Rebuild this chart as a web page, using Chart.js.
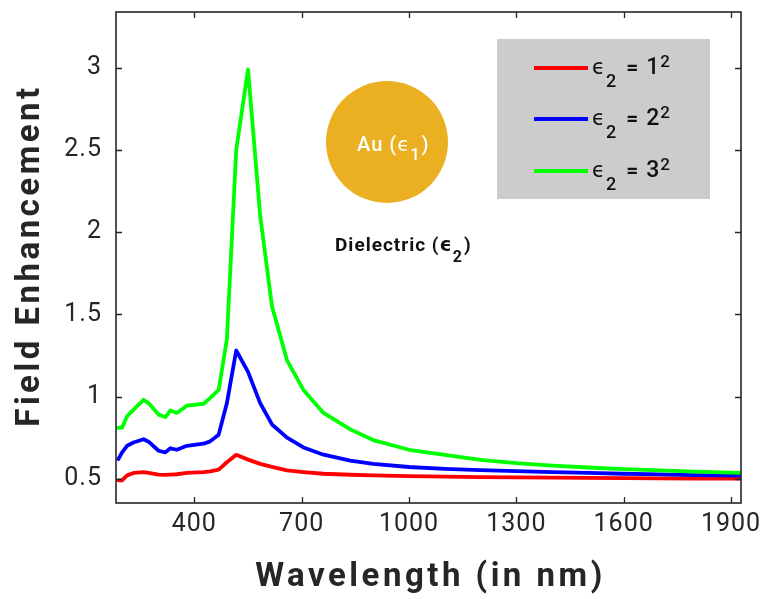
<!DOCTYPE html>
<html>
<head>
<meta charset="utf-8">
<script src="https://cdn.jsdelivr.net/npm/chart.js@4.4.1/dist/chart.umd.min.js"></script>
<style>
  html, body { margin: 0; padding: 0; background: #ffffff; }
  #wrap { width: 765px; height: 599px; position: relative; }
</style>
</head>
<body>
<div id="wrap"><canvas id="c" width="765" height="599"></canvas></div>
<script>
// ---- Data ----
const wavelengths = [188, 198, 212, 230, 258, 272, 300, 319, 333, 351, 379, 426, 444, 468, 491, 517, 550, 584, 617, 659, 705, 761, 836, 900, 1000, 1100, 1200, 1300, 1400, 1500, 1600, 1700, 1800, 1928];
const fieldEps1 = [0.49, 0.49, 0.52, 0.535, 0.54, 0.535, 0.525, 0.523, 0.525, 0.527, 0.535, 0.54, 0.545, 0.555, 0.60, 0.645, 0.616, 0.59, 0.572, 0.55, 0.54, 0.53, 0.524, 0.52, 0.515, 0.512, 0.51, 0.508, 0.506, 0.505, 0.503, 0.502, 0.501, 0.50];
const fieldEps4 = [0.62, 0.66, 0.70, 0.72, 0.74, 0.725, 0.67, 0.66, 0.685, 0.676, 0.70, 0.713, 0.727, 0.768, 0.96, 1.28, 1.15, 0.96, 0.83, 0.75, 0.69, 0.646, 0.61, 0.59, 0.571, 0.56, 0.552, 0.546, 0.54, 0.535, 0.53, 0.526, 0.522, 0.518];
const fieldEps9 = [0.81, 0.81, 0.88, 0.92, 0.98, 0.96, 0.89, 0.875, 0.915, 0.90, 0.944, 0.956, 0.99, 1.04, 1.35, 2.5, 2.99, 2.10, 1.55, 1.22, 1.04, 0.90, 0.80, 0.735, 0.676, 0.645, 0.615, 0.595, 0.58, 0.568, 0.558, 0.55, 0.543, 0.535];
const seriesLabels = ['1', '2', '3'];
const xTickValues = [400, 700, 1000, 1300, 1600, 1900];
const yTickValues = [0.5, 1, 1.5, 2, 2.5, 3];
const xTitle = 'Wavelength (in nm)';
const yTitle = 'Field Enhancement';

const FONT = 'Roboto, "Open Sans", "DejaVu Sans", sans-serif';
const AX = '#262626';

function pts(vals) { return wavelengths.map((w, i) => ({ x: w, y: vals[i] })); }

// global letter spacing for tick labels
const spacingPlugin = {
  id: 'spacing',
  beforeDraw(chart) { chart.ctx.letterSpacing = '1px'; }
};

// Frame with inward ticks on all four sides, and axis titles
const framePlugin = {
  id: 'frame',
  afterDatasetsDraw(chart) {
    const { ctx, chartArea: a, scales } = chart;
    ctx.save();
    ctx.strokeStyle = AX;
    ctx.lineWidth = 1.6;
    ctx.strokeRect(a.left, a.top, a.right - a.left, a.bottom - a.top);
    ctx.lineWidth = 1.3;
    const tl = 6;
    ctx.beginPath();
    xTickValues.forEach(v => {
      const x = Math.round(scales.x.getPixelForValue(v)) + 0.5;
      ctx.moveTo(x, a.bottom); ctx.lineTo(x, a.bottom - tl);
      ctx.moveTo(x, a.top); ctx.lineTo(x, a.top + tl);
    });
    yTickValues.forEach(v => {
      const y = Math.round(scales.y.getPixelForValue(v)) + 0.5;
      ctx.moveTo(a.left, y); ctx.lineTo(a.left + tl, y);
      ctx.moveTo(a.right, y); ctx.lineTo(a.right - tl, y);
    });
    ctx.stroke();
    // axis titles
    ctx.fillStyle = AX;
    ctx.font = 'bold 33px ' + FONT;
    ctx.letterSpacing = '3.5px';
    ctx.textAlign = 'center';
    ctx.textBaseline = 'middle';
    ctx.fillText(xTitle, (a.left + a.right) / 2 + 2, 578);
    ctx.translate(31, (a.top + a.bottom) / 2);
    ctx.rotate(-Math.PI / 2);
    ctx.fillText(yTitle, 2, 0);
    ctx.restore();
  }
};

// Annotation: Au sphere, dielectric label and legend box
const annotPlugin = {
  id: 'annot',
  afterDraw(chart) {
    const ctx = chart.ctx;
    const colors = chart.data.datasets.map(d => d.borderColor);
    ctx.save();
    ctx.letterSpacing = '1px';
    // sphere
    ctx.fillStyle = '#ebb022';
    ctx.beginPath();
    ctx.arc(387, 142, 61, 0, Math.PI * 2);
    ctx.fill();
    ctx.textBaseline = 'alphabetic';
    ctx.textAlign = 'left';
    // "Au (ϵ1)"
    ctx.fillStyle = '#ffffff';
    ctx.font = '500 20px ' + FONT;
    let x = 357;
    const b1 = 151;
    ctx.fillText('Au (\u03f5', x, b1);
    x += ctx.measureText('Au (\u03f5').width;
    ctx.font = '500 16px ' + FONT;
    ctx.fillText('1', x, b1 + 9);
    x += ctx.measureText('1').width + 1;
    ctx.font = '500 20px ' + FONT;
    ctx.fillText(')', x, b1);
    // "Dielectric (ϵ2)"
    ctx.fillStyle = '#111111';
    ctx.font = 'bold 19px ' + FONT;
    x = 335;
    const b2 = 251;
    ctx.fillText('Dielectric (\u03f5', x, b2);
    x += ctx.measureText('Dielectric (\u03f5').width;
    ctx.font = 'bold 16px ' + FONT;
    ctx.fillText('2', x, b2 + 11);
    x += ctx.measureText('2').width + 1;
    ctx.font = 'bold 19px ' + FONT;
    ctx.fillText(')', x, b2);
    // legend box
    ctx.fillStyle = '#cccccc';
    ctx.fillRect(497, 39, 213, 160);
    const rows = [68, 119, 171];
    rows.forEach((ry, i) => {
      ctx.strokeStyle = colors[i];
      ctx.lineWidth = 4;
      ctx.beginPath();
      ctx.moveTo(534, ry); ctx.lineTo(588, ry);
      ctx.stroke();
      ctx.fillStyle = '#111111';
      let tx = 592;
      const base = ry + 6;
      ctx.font = '500 21px ' + FONT;
      ctx.fillText('\u03f5', tx, base);
      tx += ctx.measureText('\u03f5').width;
      ctx.font = '500 18px ' + FONT;
      ctx.fillText('2', tx, base + 13);
      tx += ctx.measureText('2').width + 9;
      ctx.font = 'bold 21px ' + FONT;
      ctx.fillText('=', tx, base);
      tx += ctx.measureText('=').width + 7;
      ctx.font = '500 23px ' + FONT;
      ctx.fillText(seriesLabels[i], tx, base);
      tx += ctx.measureText(seriesLabels[i]).width;
      ctx.font = '500 17px ' + FONT;
      ctx.fillText('2', tx, base - 7);
    });
    ctx.restore();
  }
};

new Chart(document.getElementById('c'), {
  type: 'line',
  data: {
    datasets: [
      { label: 'eps2 = 1^2', data: pts(fieldEps1), borderColor: '#ff0000', order: 3 },
      { label: 'eps2 = 2^2', data: pts(fieldEps4), borderColor: '#0000ff', order: 2 },
      { label: 'eps2 = 3^2', data: pts(fieldEps9), borderColor: '#00ff00', order: 1 }
    ]
  },
  options: {
    responsive: false,
    animation: false,
    devicePixelRatio: 1,
    layout: { padding: { top: 12, right: 24, left: 0, bottom: 0 } },
    elements: {
      line: { borderWidth: 3.8, tension: 0, fill: false, borderJoinStyle: 'round', borderCapStyle: 'round' },
      point: { radius: 0, hoverRadius: 0 }
    },
    plugins: { legend: { display: false }, tooltip: { enabled: false } },
    scales: {
      x: {
        type: 'linear',
        min: 181, max: 1928,
        afterBuildTicks: s => { s.ticks = xTickValues.map(v => ({ value: v })); },
        afterFit: s => { s.height = 96; s.paddingLeft = 0; s.paddingRight = 0; },
        grid: { display: false, drawTicks: false },
        border: { display: false },
        ticks: { color: AX, font: { family: FONT, size: 25 }, padding: 7, maxRotation: 0, autoSkip: false, callback: v => String(v) },
        title: { display: false }
      },
      y: {
        type: 'linear',
        min: 0.352, max: 3.34,
        afterBuildTicks: s => { s.ticks = yTickValues.map(v => ({ value: v })); },
        afterFit: s => { s.width = 116; s.paddingTop = 0; s.paddingBottom = 0; },
        grid: { display: false, drawTicks: false },
        border: { display: false },
        ticks: { color: AX, font: { family: FONT, size: 25 }, padding: 14, autoSkip: false, callback: v => String(v) },
        title: { display: false }
      }
    }
  },
  plugins: [spacingPlugin, framePlugin, annotPlugin]
});
</script>
</body>
</html>
